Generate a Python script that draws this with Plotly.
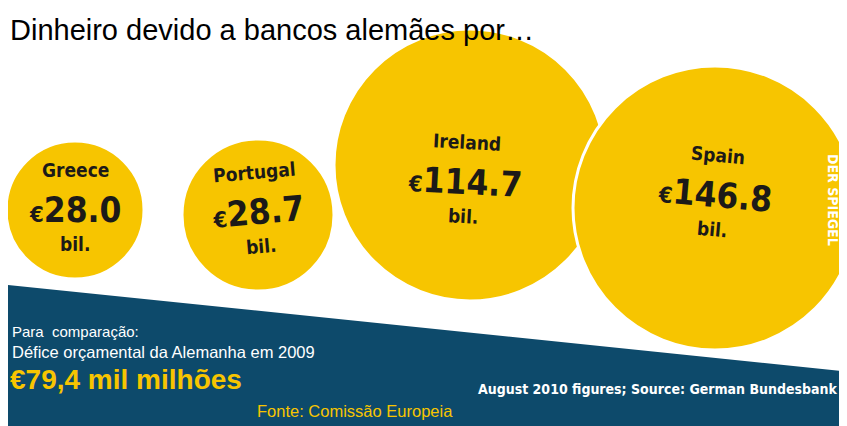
import plotly.graph_objects as go
import math

countries = ["Greece", "Portugal", "Ireland", "Spain"]
values = [28.0, 28.7, 114.7, 146.8]
unit = "bil."

# layout (pixel positions/sizes)
cx = [75, 258, 470, 715]
cy = [210, 215, 165, 208]
diam = [138, 152, 272, 284]
tx = [75, 258, 465, 715]
ty = [210, 212, 182, 195]
rot = [0, -5, 3, 5]

YEL = "#F7C500"
BLUE = "#0D4A6B"
DARK = "#1c1a18"
F = "DejaVu Sans Condensed"

fig = go.Figure()
fig.add_shape(type="path", path="M -20 282 L 870 374 L 870 450 L -20 450 Z",
              fillcolor=BLUE, line_width=0, layer="below")
fig.add_trace(go.Scatter(x=cx, y=cy, mode="markers", hoverinfo="skip",
    marker=dict(size=diam, color=YEL, line=dict(color="white", width=3), opacity=1)))

for i, (c, v) in enumerate(zip(countries, values)):
    a = math.radians(rot[i])
    lines = [(-40, f"<b>{c}</b>", 19),
             (0, f"<b><span style='font-size:22px'>€</span>{v:.1f}</b>", 35),
             (34, f"<b>{unit}</b>", 19)]
    for dy, t, s in lines:
        fig.add_annotation(x=tx[i] - dy * math.sin(a), y=ty[i] + dy * math.cos(a),
            textangle=rot[i], showarrow=False, text=t,
            font=dict(family=F, size=s, color=DARK))

fig.add_annotation(x=8, y=30, xanchor="left", yanchor="middle", showarrow=False,
    text="Dinheiro devido a bancos alemães por…", font=dict(family="Liberation Sans", size=29, color="black"))
fig.add_annotation(x=10, y=331, xanchor="left", showarrow=False,
    text="Para  comparação:", font=dict(family="Liberation Sans", size=15, color="white"))
fig.add_annotation(x=10, y=352, xanchor="left", showarrow=False,
    text="Défice orçamental da Alemanha em 2009", font=dict(family="Liberation Sans", size=16.5, color="white"))
fig.add_annotation(x=8, y=379, xanchor="left", showarrow=False,
    text="<b>€79,4 mil milhões</b>", font=dict(family="Liberation Sans", size=28, color=YEL))
fig.add_annotation(x=255, y=411, xanchor="left", showarrow=False,
    text="Fonte: Comissão Europeia", font=dict(family="Liberation Sans", size=16.5, color=YEL))
fig.add_annotation(x=840, y=389, xanchor="right", showarrow=False,
    text="<b>August 2010 figures; Source: German Bundesbank</b>", font=dict(family=F, size=14, color="white"))
fig.add_annotation(x=833, y=200, textangle=90, showarrow=False,
    text="<b>DER SPIEGEL</b>", font=dict(family=F, size=14, color="white"))

fig.update_layout(width=847, height=426, margin=dict(l=0, r=0, t=0, b=0),
    paper_bgcolor="white", plot_bgcolor="white", showlegend=False,
    xaxis=dict(range=[8, 855], visible=False, fixedrange=True),
    yaxis=dict(range=[434, 8], visible=False, fixedrange=True))
fig.write_html("out.html", config={"displayModeBar": False})
